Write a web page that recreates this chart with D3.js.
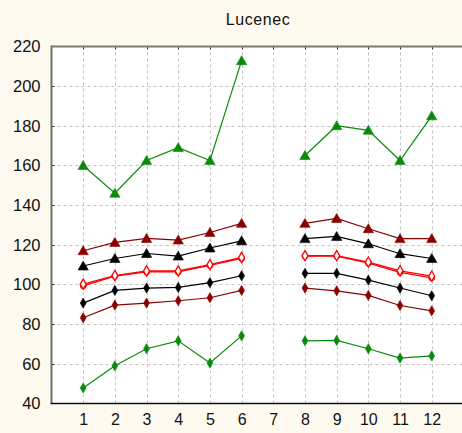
<!DOCTYPE html>
<html>
<head>
<meta charset="utf-8">
<script src="https://cdn.jsdelivr.net/npm/d3@7"></script>
<style>
  html, body { margin: 0; padding: 0; background: #fefaef; }
  svg { display: block; }
  text { font-family: "Liberation Sans", Arial, sans-serif; fill: #111; }
</style>
</head>
<body>
<svg id="chart" width="462" height="433"></svg>
<script>
// Months on the x axis (7 has no data)
const months = [1, 2, 3, 4, 5, 6, 7, 8, 9, 10, 11, 12];
const yTicks = [40, 60, 80, 100, 120, 140, 160, 180, 200, 220];

// Series values per month (null = no observation)
const greenMax   = [160, 146, 162.5, 169, 162.5, 212.8, null, 165, 180, 177.7, 162.5, 185];
const redTriUp   = [117, 121.2, 123.2, 122.4, 126.2, 130.8, null, 130.8, 133.3, 128.1, 123.1, 123.1];
const blackTriUp = [109.3, 113.1, 115.6, 114.3, 118.4, 122, null, 123.1, 124.2, 120.5, 115.5, 113.1];
const redMeanA   = [100.2, 104.5, 106.8, 106.8, 110, 113.6, null, 114.5, 114.5, 111.3, 106.9, 104.2];
const redMeanB   = [99.3, 104.2, 106.3, 106.3, 109.6, 113.1, null, 114.3, 114.3, 110.8, 106.1, 103.3];
const blackDiaLo = [90.6, 97, 98.2, 98.5, 100.9, 104.4, null, 105.6, 105.6, 102.2, 98.2, 94.3];
const redDiaLo   = [83.2, 89.6, 90.6, 91.8, 93.3, 97, null, 98.2, 96.8, 94.5, 89.4, 86.7];
const greenMin   = [47.8, 59, 67.6, 71.6, 60.4, 74.1, null, 71.6, 71.8, 67.6, 62.9, 64];

const series = [
  { values: greenMax,   color: "#0a8a0a", marker: "triangle", open: false, width: 1.2 },
  { values: redTriUp,   color: "#8b0000", marker: "triangle", open: false, width: 1.2 },
  { values: blackTriUp, color: "#000000", marker: "triangle", open: false, width: 1.2 },
  { values: redMeanB,   color: "#ff0000", marker: "circle",   open: true,  width: 1.3 },
  { values: redMeanA,   color: "#ff0000", marker: "diamond",  open: true,  width: 1.3 },
  { values: blackDiaLo, color: "#000000", marker: "diamond",  open: false, width: 1.2 },
  { values: redDiaLo,   color: "#8b0000", marker: "diamond",  open: false, width: 1.2 },
  { values: greenMin,   color: "#0a8a0a", marker: "diamond",  open: false, width: 1.2 }
];

const svg = d3.select("#chart");
const plotLeft = 51.5, plotRight = 463.4, plotTop = 46.4, plotBottom = 403.5;

const x = d3.scaleLinear().domain([0, 13]).range([plotLeft, plotRight]);
const y = d3.scaleLinear().domain([40, 220]).range([plotBottom, plotTop]);

// plot background
svg.append("rect")
  .attr("x", plotLeft).attr("y", plotTop)
  .attr("width", 462 - plotLeft).attr("height", plotBottom - plotTop)
  .attr("fill", "#ffffff");

// grid
const grid = svg.append("g").attr("stroke", "#c4c4c4").attr("stroke-dasharray", "3,3").attr("stroke-width", 1);
grid.selectAll("line.v").data(months).enter().append("line")
  .attr("x1", d => Math.round(x(d)) + 0.5).attr("x2", d => Math.round(x(d)) + 0.5)
  .attr("y1", plotTop).attr("y2", plotBottom);
grid.selectAll("line.h").data(yTicks.slice(1, -1)).enter().append("line")
  .attr("x1", plotLeft).attr("x2", 462)
  .attr("y1", d => Math.round(y(d)) + 0.5).attr("y2", d => Math.round(y(d)) + 0.5);

// axes
const yAxis = d3.axisLeft(y).tickValues(yTicks).tickSize(0).tickPadding(11).tickFormat(d3.format("d"));
const gy = svg.append("g").attr("transform", `translate(${plotLeft},0)`).call(yAxis);
gy.select(".domain").remove();
gy.selectAll("text").style("font-size", "16.5px").attr("fill", "#111");

const xAxis = d3.axisBottom(x).tickValues(months).tickSize(0).tickPadding(10).tickFormat(d3.format("d"));
const gx = svg.append("g").attr("transform", `translate(0,${plotBottom})`).call(xAxis);
gx.select(".domain").remove();
gx.selectAll("text").style("font-size", "16px").attr("fill", "#111");

// small tick marks on top frame and left axis
svg.append("g").selectAll("line").data(months).enter().append("line")
  .attr("x1", d => Math.round(x(d)) + 0.5).attr("x2", d => Math.round(x(d)) + 0.5)
  .attr("y1", plotTop).attr("y2", plotTop + 3).attr("stroke", "#222");
svg.append("g").selectAll("line").data(yTicks.slice(1, -1)).enter().append("line")
  .attr("x1", plotLeft).attr("x2", plotLeft + 3)
  .attr("y1", d => Math.round(y(d)) + 0.5).attr("y2", d => Math.round(y(d)) + 0.5).attr("stroke", "#222");

// frame lines
svg.append("line").attr("x1", plotLeft).attr("x2", 462).attr("y1", plotTop).attr("y2", plotTop)
  .attr("stroke", "#7a7a7a").attr("stroke-width", 2);
svg.append("line").attr("x1", plotLeft).attr("x2", plotLeft).attr("y1", plotTop - 1).attr("y2", plotBottom)
  .attr("stroke", "#6e6e6e").attr("stroke-width", 2);
svg.append("line").attr("x1", plotLeft - 1).attr("x2", 462).attr("y1", plotBottom).attr("y2", plotBottom)
  .attr("stroke", "#111").attr("stroke-width", 1.3);

// title
svg.append("text").attr("x", 258).attr("y", 25).attr("text-anchor", "middle")
  .style("font-size", "16px").style("letter-spacing", "0.6px").text("Lucenec");

// series lines and markers
const line = d3.line()
  .defined(d => d.v !== null)
  .x(d => x(d.m)).y(d => y(d.v));

const symbolFor = {
  triangle: d3.symbol().type(d3.symbolTriangle).size(46),
  diamond: d3.symbol().type(d3.symbolDiamond).size(30),
  circle: d3.symbol().type(d3.symbolCircle).size(24)
};

series.forEach(s => {
  const pts = months.map((m, i) => ({ m, v: s.values[i] }));
  svg.append("path").datum(pts)
    .attr("d", line).attr("fill", "none")
    .attr("stroke", s.color).attr("stroke-width", s.width);
  svg.append("g").selectAll("path").data(pts.filter(p => p.v !== null)).enter().append("path")
    .attr("d", symbolFor[s.marker])
    .attr("transform", p => `translate(${x(p.m)},${y(p.v) + (s.marker === "triangle" ? 1 : 0)})`)
    .attr("fill", s.open ? "#ffffff" : s.color)
    .attr("stroke", s.color).attr("stroke-width", s.open ? 1.3 : 0.6);
});
</script>
</body>
</html>
